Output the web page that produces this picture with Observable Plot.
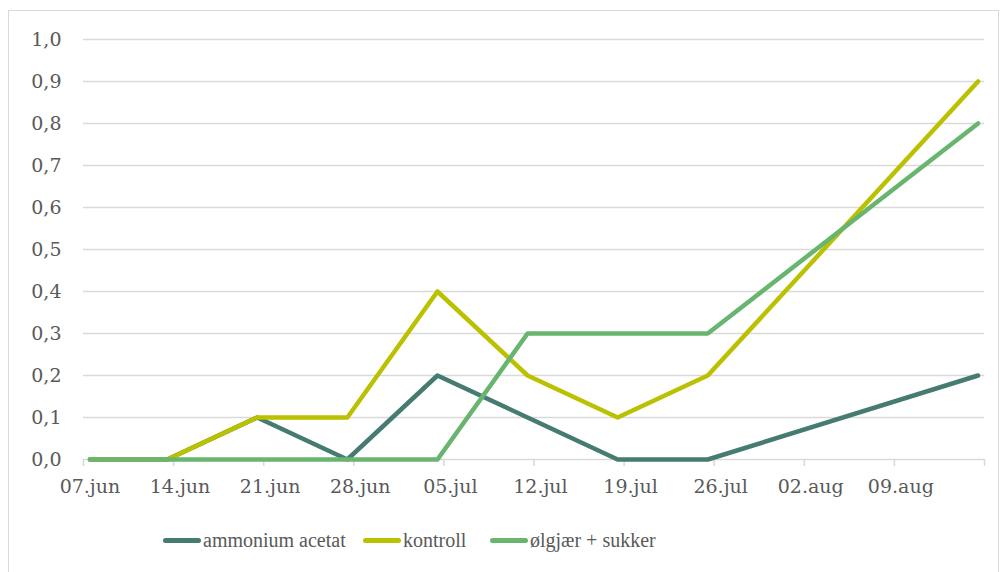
<!DOCTYPE html>
<html>
<head>
<meta charset="utf-8">
<script src="https://cdn.jsdelivr.net/npm/d3@7"></script>
<script src="https://cdn.jsdelivr.net/npm/@observablehq/plot@0.6"></script>
<style>
  body { margin: 0; background: #fff; width: 1002px; height: 572px; position: relative; overflow: hidden; }
  #frame { position: absolute; left: 8px; top: 10px; width: 991px; height: 570px; border: 1.5px solid #d9d9d9; box-sizing: border-box; }
  #chart { position: absolute; left: 0; top: 0; }
  #chart svg, #chart svg text { font-family: "DejaVu Serif" !important; }
  .leg { position: absolute; top: 526px; height: 28px; display: flex; align-items: center; font-family: "Liberation Serif"; font-size: 20px; color: #595959; white-space: nowrap; }
  .sw { width: 38px; height: 5px; border-radius: 3px; margin-right: 2px; }
</style>
</head>
<body>
<div id="frame"></div>
<div id="chart"></div>
<div id="legend"></div>
<script>
// Sample dates (day.month) and values per series
const dates = ["2023-06-07","2023-06-13","2023-06-20","2023-06-27","2023-07-04","2023-07-11","2023-07-18","2023-07-25","2023-08-15"];
const seriesNames = ["ammonium acetat", "kontroll", "ølgjær + sukker"];
const ammonium = [0, 0, 0.1, 0, 0.2, 0.1, 0, 0, 0.2];
const kontroll = [0, 0, 0.1, 0.1, 0.4, 0.2, 0.1, 0.2, 0.9];
const olgjaer  = [0, 0, 0, 0, 0, 0.3, 0.3, 0.3, 0.8];
const tickDates = ["2023-06-07","2023-06-14","2023-06-21","2023-06-28","2023-07-05","2023-07-12","2023-07-19","2023-07-26","2023-08-02","2023-08-09","2023-08-16"];
const tickLabels = ["07.jun","14.jun","21.jun","28.jun","05.jul","12.jul","19.jul","26.jul","02.aug","09.aug"];
const yTicks = [0, 0.1, 0.2, 0.3, 0.4, 0.5, 0.6, 0.7, 0.8, 0.9, 1.0];
const colors = ["#457b70", "#bbc100", "#68b56f"];

const parse = s => new Date(s + "T00:00:00Z");
const noon = s => new Date(parse(s).getTime() + 12 * 3600 * 1000);
const allValues = [ammonium, kontroll, olgjaer];
const rows = [];
seriesNames.forEach((name, i) => {
  dates.forEach((d, j) => rows.push({series: name, date: noon(d), value: allValues[i][j]}));
});
const tickD = tickDates.map(parse);
const labelD = tickLabels.map((l, i) => noon(tickDates[i]));
const labelMap = new Map(labelD.map((d, i) => [+d, tickLabels[i]]));

const chart = Plot.plot({
  width: 1002,
  height: 500,
  marginTop: 39,
  marginBottom: 41,
  marginLeft: 83,
  marginRight: 18,
  style: {fontFamily: "'DejaVu Serif', serif", fontSize: "19px", color: "#595959", background: "transparent"},
  x: {type: "utc", domain: [tickD[0], tickD[tickD.length - 1]], label: null},
  y: {domain: [0, 1], label: null},
  marks: [
    Plot.gridY(yTicks, {stroke: "#d9d9d9", strokeOpacity: 1, strokeWidth: 1.5}),
    Plot.axisY(yTicks, {tickSize: 0, tickPadding: 22, tickFormat: v => d3.format(".1f")(v).replace(".", ","), fill: "#595959", label: null}),
    Plot.axisX(tickD, {tickSize: 7, stroke: "#d9d9d9", strokeWidth: 1.5, tickFormat: () => "", label: null}),
    Plot.axisX(labelD, {tickSize: 0, tickPadding: 20, tickFormat: d => labelMap.get(+d), fill: "#595959", label: null}),
    Plot.line(rows, {x: "date", y: "value", z: "series", stroke: "series", strokeWidth: 4.5, strokeLinecap: "round", strokeLinejoin: "round"})
  ],
  color: {domain: seriesNames, range: colors}
});
document.getElementById("chart").appendChild(chart);

const legendLefts = [163, 363, 490];
const leg = document.getElementById("legend");
seriesNames.forEach((name, i) => {
  const item = document.createElement("div");
  item.className = "leg";
  item.style.left = legendLefts[i] + "px";
  const sw = document.createElement("div");
  sw.className = "sw";
  sw.style.background = colors[i];
  const t = document.createElement("span");
  t.textContent = name;
  item.appendChild(sw);
  item.appendChild(t);
  leg.appendChild(item);
});
</script>
</body>
</html>
